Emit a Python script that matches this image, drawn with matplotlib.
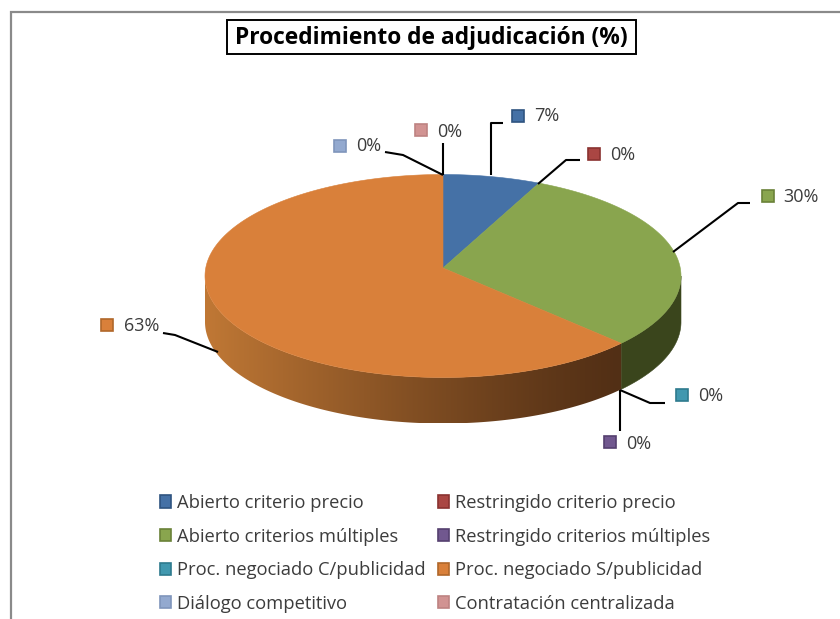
import numpy as np
import matplotlib
matplotlib.use("Agg")
import matplotlib.pyplot as plt
from matplotlib.patches import Patch, Rectangle, Polygon
from matplotlib.colors import to_rgb
from matplotlib.transforms import Bbox

# ---- data ----
categories = ["Abierto criterio precio", "Restringido criterio precio",
              "Abierto criterios múltiples", "Restringido criterios múltiples",
              "Proc. negociado C/publicidad", "Proc. negociado S/publicidad",
              "Diálogo competitivo", "Contratación centralizada"]
values = [6.6, 0, 29.9, 0, 0, 63.4, 0, 0]
colors = ["#4571a6", "#aa4643", "#89a54e", "#71588f",
          "#4198af", "#d9803a", "#93a9cf", "#d19392"]
edges = ["#2f5480", "#8a3230", "#6a8238", "#55406f",
         "#2e7a8e", "#b0672a", "#7f95bb", "#bd8382"]
title = "Procedimiento de adjudicación (%)"

# ---- layout ----
FONT = "Open Sans"
plt.rcParams["font.family"] = [FONT, "DejaVu Sans"]
fig = plt.figure(figsize=(8.4, 6.19), dpi=100)
ax = fig.add_axes([0, 0, 1, 1])
ax.set_xlim(0, 840)
ax.set_ylim(619, 0)
ax.axis("off")

CX, CY, RX, RY = 443, 276, 238, 101.5   # top ellipse
APEX = (443, 268)
DEPTH = 46


def ell(theta_deg, dy=0):
    t = np.radians(theta_deg)
    return CX + RX * np.sin(t), CY - RY * np.cos(t) + dy


# slice angles, clockwise from the top
total = sum(values)
cum = np.cumsum([0] + values) / total * 360
starts, ends = cum[:-1], cum[1:]

# side wall
GREEN_WALL = "#3a451c"
ORANGE_DARK = np.array(to_rgb("#522f15"))
ORANGE_LIGHT = np.array(to_rgb("#c07835"))
for i, (s, e) in enumerate(zip(starts, ends)):
    a, b = max(s, 90), min(e, 270)
    if b <= a:
        continue
    ts = np.linspace(a, b, 200)
    x, y = ell(ts)
    vx = np.r_[x, x[::-1]]
    vy = np.r_[y, (y + DEPTH)[::-1]]
    if i == 2:
        ax.fill(vx, vy, facecolor=GREEN_WALL, edgecolor=GREEN_WALL, lw=0.4, zorder=2)
    else:
        x0, x1 = vx.min(), vx.max()
        xs = np.linspace(x0, x1, 420)
        f = np.clip((x1 - xs) / (x1 - x0), 0, 1) ** 1.2
        grad = (ORANGE_DARK + (ORANGE_LIGHT - ORANGE_DARK) * f[:, None])[None, :, :]
        im = ax.imshow(grad, extent=[x0, x1, vy.max(), vy.min()], aspect="auto",
                       zorder=2, interpolation="bilinear")
        im.set_clip_path(Polygon(np.c_[vx, vy], closed=True, transform=ax.transData))
ax.set_xlim(0, 840)
ax.set_ylim(619, 0)

# top face
for v, s, e, c in zip(values, starts, ends, colors):
    if v == 0:
        continue
    ts = np.linspace(s, e, 200)
    x, y = ell(ts)
    ax.fill(np.r_[APEX[0], x], np.r_[APEX[1], y],
            facecolor=c, edgecolor=c, lw=0.4, zorder=3)

# frame
ax.plot([11, 11, 840], [619, 12, 12], color="#8a8a8a", lw=1.6, zorder=1,
        solid_joinstyle="miter")

# title
ax.text(431, 38, title, ha="center", va="center", fontsize=16.4,
        fontweight="bold", color="black", zorder=6)
ax.add_patch(Rectangle((227, 20), 409, 34, facecolor="none",
                       edgecolor="black", lw=1.4, zorder=5))

# callouts: (leader x, leader y, swatch x, swatch y, text x, text y, clip bottom)
callouts = [
    ([491, 491, 503], [175, 123, 123], 518, 116, 534, 116, None),
    ([538, 566, 580], [184, 160, 160], 594, 154, 610, 155, 160),
    ([673, 738, 750], [252, 203, 203], 768, 196, 783, 197, None),
    ([620, 620, 620], [390, 410, 431], 610, 442, 626, 444, 449),
    ([620, 650, 665], [390, 403, 403], 682, 395, 698, 396, None),
    ([218, 175, 163], [352, 335, 333], 107, 325, 124, 326, None),
    ([443, 403, 385], [175, 155, 152], 340, 146, 356, 146, None),
    ([443, 443, 443], [175, 150, 143], 421, 130, 437, 132, 137),
]
for (lx, ly, sx, sy, tx, ty, clip), v, c, ec in zip(callouts, values, colors, edges):
    ax.plot(lx, ly, color="black", lw=1.5, zorder=4, solid_capstyle="butt")
    ax.add_patch(Rectangle((sx - 6, sy - 6), 12, 12, facecolor=c, edgecolor=ec,
                           lw=1.2, zorder=5))
    t = ax.text(tx, ty, f"{round(v)}%", ha="left", va="center", fontsize=13,
                color="#3c3c3c", zorder=5)
    if clip is not None:
        t.set_clip_box(Bbox([[tx - 5, 619 - clip], [tx + 60, 619 - (ty - 25)]]))
        t.set_clip_on(True)

# legend (row-first reading order, so feed it column by column)
order = [0, 2, 4, 6, 1, 3, 5, 7]
handles = [Patch(facecolor=colors[i], edgecolor=edges[i], lw=1.2,
                 label=categories[i]) for i in order]
leg = ax.legend(handles=handles, ncol=2, frameon=False,
                loc="upper left", bbox_to_anchor=(160, 494),
                bbox_transform=ax.transData, fontsize=13.2,
                handlelength=0.6, handleheight=0.65, handletextpad=0.33,
                columnspacing=0.68, labelspacing=0.85, borderpad=0,
                borderaxespad=0, labelcolor="#3c3c3c")
leg.set_zorder(5)

fig.savefig("out.png", dpi=100)
